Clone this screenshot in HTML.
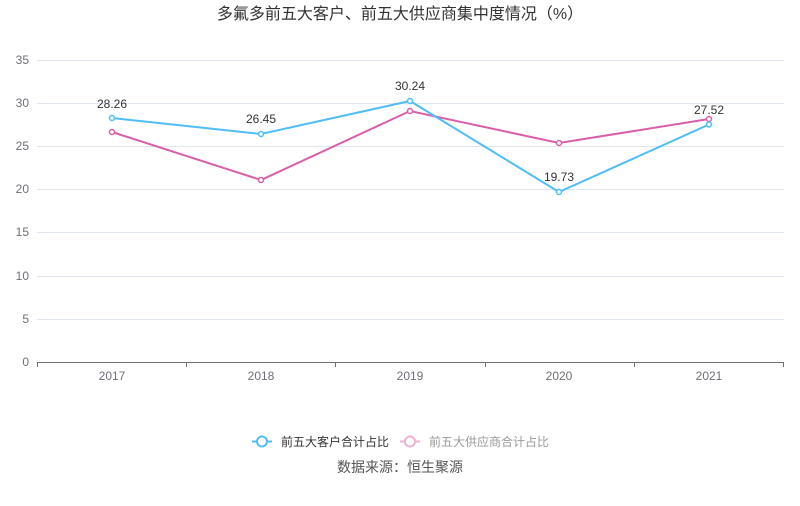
<!DOCTYPE html>
<html><head><meta charset="utf-8"><style>
body{margin:0;background:#fff;}
svg text{font-family:"Liberation Sans","Noto Sans CJK SC",sans-serif;}
</style></head><body>
<svg width="800" height="501" xmlns="http://www.w3.org/2000/svg">
<text x="400" y="19" text-anchor="middle" font-size="16" fill="#333">多氟多前五大客户、前五大供应商集中度情况（%）</text>
<g stroke="#e0e6f1" stroke-width="1">
<line x1="37" y1="60.5" x2="784" y2="60.5"/>
<line x1="37" y1="103.5" x2="784" y2="103.5"/>
<line x1="37" y1="146.5" x2="784" y2="146.5"/>
<line x1="37" y1="189.5" x2="784" y2="189.5"/>
<line x1="37" y1="232.5" x2="784" y2="232.5"/>
<line x1="37" y1="276.5" x2="784" y2="276.5"/>
<line x1="37" y1="319.5" x2="784" y2="319.5"/>
</g>
<line x1="37" y1="362.5" x2="784" y2="362.5" stroke="#6e7079"/>
<g stroke="#6e7079"><line x1="37.5" y1="362" x2="37.5" y2="367"/><line x1="186.5" y1="362" x2="186.5" y2="367"/><line x1="335.5" y1="362" x2="335.5" y2="367"/><line x1="485.5" y1="362" x2="485.5" y2="367"/><line x1="634.5" y1="362" x2="634.5" y2="367"/><line x1="783.5" y1="362" x2="783.5" y2="367"/></g>
<g font-size="12" fill="#6e7079" text-anchor="end">
<text x="29" y="64">35</text><text x="29" y="107">30</text><text x="29" y="150">25</text><text x="29" y="193">20</text><text x="29" y="236">15</text><text x="29" y="280">10</text><text x="29" y="323">5</text><text x="29" y="366">0</text>
</g>
<g font-size="12" fill="#6e7079" text-anchor="middle">
<text x="112" y="380">2017</text><text x="261" y="380">2018</text><text x="410" y="380">2019</text><text x="559" y="380">2020</text><text x="709" y="380">2021</text>
</g>
<polyline points="112,132 261,180 410,111 559,143 709,119" fill="none" stroke="#d85fa8" stroke-width="2"/>
<g fill="#fff" stroke="#d85fa8" stroke-width="1.5"><circle cx="112" cy="132" r="2.5"/><circle cx="261" cy="180" r="2.5"/><circle cx="410" cy="111" r="2.5"/><circle cx="559" cy="143" r="2.5"/><circle cx="709" cy="119" r="2.5"/></g>
<polyline points="112,118 261,134 410,101 559,192 709,124.5" fill="none" stroke="#4fbdf6" stroke-width="2"/>
<g fill="#fff" stroke="#4fbdf6" stroke-width="1.5"><circle cx="112" cy="118" r="2.5"/><circle cx="261" cy="134" r="2.5"/><circle cx="410" cy="101" r="2.5"/><circle cx="559" cy="192" r="2.5"/><circle cx="709" cy="124.5" r="2.5"/></g>
<g font-size="12" fill="#333" text-anchor="middle">
<text x="112" y="108">28.26</text><text x="261" y="123">26.45</text><text x="410" y="90">30.24</text><text x="559" y="181">19.73</text><text x="709" y="114">27.52</text>
</g>
<line x1="252" y1="441.5" x2="272" y2="441.5" stroke="#4fbdf6" stroke-width="2"/>
<circle cx="262" cy="441.5" r="5" fill="#fff" stroke="#4fbdf6" stroke-width="2"/>
<text x="281" y="446" font-size="12" fill="#333">前五大客户合计占比</text>
<line x1="400" y1="441.5" x2="420" y2="441.5" stroke="#f0b0d4" stroke-width="2"/>
<circle cx="410" cy="441.5" r="5" fill="#fff" stroke="#f0b0d4" stroke-width="2"/>
<text x="429" y="446" font-size="12" fill="#999">前五大供应商合计占比</text>
<text x="400" y="472" font-size="14" fill="#555" text-anchor="middle">数据来源：恒生聚源</text>
</svg>
</body></html>
